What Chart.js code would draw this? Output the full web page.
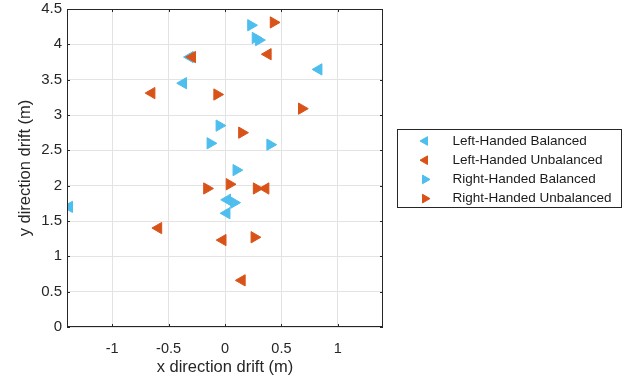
<!DOCTYPE html>
<html>
<head>
<meta charset="utf-8">
<script src="https://cdn.jsdelivr.net/npm/chart.js@4.4.0/dist/chart.umd.min.js"></script>
<style>
  html, body { margin: 0; padding: 0; background: #fff; }
  #wrap { width: 623px; height: 379px; }
</style>
</head>
<body>
<div id="wrap"><canvas id="grafico" width="623" height="379"></canvas></div>
<script>
// ================= DATOS =================
const seriesNames = ["Left-Handed Balanced", "Left-Handed Unbalanced", "Right-Handed Balanced", "Right-Handed Unbalanced"];

const lhbX = [0.83, -0.37, -0.31, 0.02, 0.015, -1.38];
const lhbY = [3.645, 3.45, 3.82, 1.80, 1.61, 1.70];

const lhuX = [0.38, -0.65, -0.29, 0.36, -0.59, -0.02, 0.15];
const lhuY = [3.86, 3.31, 3.82, 1.96, 1.40, 1.23, 0.66];

const rhbX = [0.23, 0.27, 0.30, -0.05, -0.13, 0.40, 0.10, 0.08];
const rhbY = [4.27, 4.09, 4.06, 2.85, 2.60, 2.58, 2.22, 1.76];

const rhuX = [0.43, -0.07, 0.68, 0.15, -0.16, 0.04, 0.28, 0.26];
const rhuY = [4.31, 3.29, 3.09, 2.75, 1.96, 2.02, 1.96, 1.27];

const xTicks = [-1, -0.5, 0, 0.5, 1];
const yTicks = [0, 0.5, 1, 1.5, 2, 2.5, 3, 3.5, 4, 4.5];

const azul = "#4DBEEE";
const naranja = "#D95319";
const fuente = "'Liberation Sans', Arial, Helvetica, sans-serif";

// ================= FUNCIONES UTILES =================
function puntos(xs, ys) {
  return xs.map((x, i) => ({ x, y: ys[i] }));
}

function serie(nombre, xs, ys, color, rotacion, orden) {
  return {
    label: nombre,
    data: puntos(xs, ys),
    pointStyle: "triangle",
    pointRotation: rotacion,
    pointRadius: 6.5,
    pointHoverRadius: 6.5,
    backgroundColor: color,
    borderColor: color,
    borderWidth: 1,
    order: orden,
    clip: 0
  };
}

// caja de ejes + leyenda estilo matlab
const cajaPlugin = {
  id: "caja",
  afterDraw(chart) {
    const { ctx, chartArea: a } = chart;
    ctx.save();
    ctx.strokeStyle = "#262626";
    ctx.lineWidth = 1;
    ctx.strokeRect(a.left + 0.5, a.top + 0.5, a.right - a.left - 1, a.bottom - a.top - 1);

    // ticks hacia adentro
    const xs = chart.scales.x, ys = chart.scales.y;
    ctx.beginPath();
    xTicks.forEach(v => {
      const px = Math.round(xs.getPixelForValue(v)) + 0.5;
      ctx.moveTo(px, a.bottom); ctx.lineTo(px, a.bottom - 3);
      ctx.moveTo(px, a.top); ctx.lineTo(px, a.top + 3);
    });
    yTicks.forEach(v => {
      const py = Math.round(ys.getPixelForValue(v)) + 0.5;
      ctx.moveTo(a.left, py); ctx.lineTo(a.left + 3, py);
      ctx.moveTo(a.right, py); ctx.lineTo(a.right - 3, py);
    });
    ctx.stroke();

    // leyenda
    const lx = 397.5, ly = 129.5, lw = 224, lh = 78;
    ctx.fillStyle = "#fff";
    ctx.fillRect(lx, ly, lw, lh);
    ctx.strokeRect(lx, ly, lw, lh);
    ctx.font = "13.5px " + fuente;
    ctx.textBaseline = "middle";
    chart.data.datasets.forEach((ds, i) => {
      const cy = 141 + i * 19.2;
      ctx.fillStyle = ds.backgroundColor;
      ctx.strokeStyle = ds.borderColor;
      Chart.helpers.drawPoint(ctx, { pointStyle: "triangle", rotation: ds.pointRotation, radius: 5, borderWidth: 1 }, 425, cy);
      ctx.fillStyle = "#1a1a1a";
      ctx.fillText(ds.label, 452.5, cy);
    });
    ctx.restore();
  }
};

// ================= GRAFICO =================
new Chart(document.getElementById("grafico").getContext("2d"), {
  type: "scatter",
  data: {
    datasets: [
      serie(seriesNames[0], lhbX, lhbY, azul, -90, 4),
      serie(seriesNames[1], lhuX, lhuY, naranja, -90, 3),
      serie(seriesNames[2], rhbX, rhbY, azul, 90, 2),
      serie(seriesNames[3], rhuX, rhuY, naranja, 90, 1)
    ]
  },
  options: {
    responsive: false,
    animation: false,
    devicePixelRatio: 1,
    layout: { padding: { top: 9, right: 240, left: 0, bottom: 0 } },
    plugins: { legend: { display: false }, tooltip: { enabled: false } },
    scales: {
      x: {
        type: "linear",
        min: -1.4,
        max: 1.4,
        afterBuildTicks: s => { s.ticks = xTicks.map(v => ({ value: v })); },
        afterFit: s => { s.height = 52; s.paddingLeft = 0; s.paddingRight = 0; },
        grid: { color: "#e3e3e3", drawTicks: false },
        border: { display: false },
        ticks: { color: "#262626", padding: 13, font: { size: 14.5, family: fuente }, callback: v => String(v) },
        title: { display: true, text: "x direction drift (m)", color: "#262626", font: { size: 16.5, family: fuente }, padding: { top: 0, bottom: 2 } }
      },
      y: {
        type: "linear",
        min: 0,
        max: 4.5,
        afterBuildTicks: s => { s.ticks = yTicks.map(v => ({ value: v })); },
        afterFit: s => { s.width = 67; s.paddingTop = 0; s.paddingBottom = 0; },
        grid: { color: "#e3e3e3", drawTicks: false },
        border: { display: false },
        ticks: { color: "#262626", padding: 5, font: { size: 15, family: fuente }, callback: v => String(v) },
        title: { display: true, text: "y direction drift (m)", color: "#262626", font: { size: 16.5, family: fuente }, padding: { top: 16, bottom: 0 } }
      }
    }
  },
  plugins: [cajaPlugin]
});
</script>
</body>
</html>
